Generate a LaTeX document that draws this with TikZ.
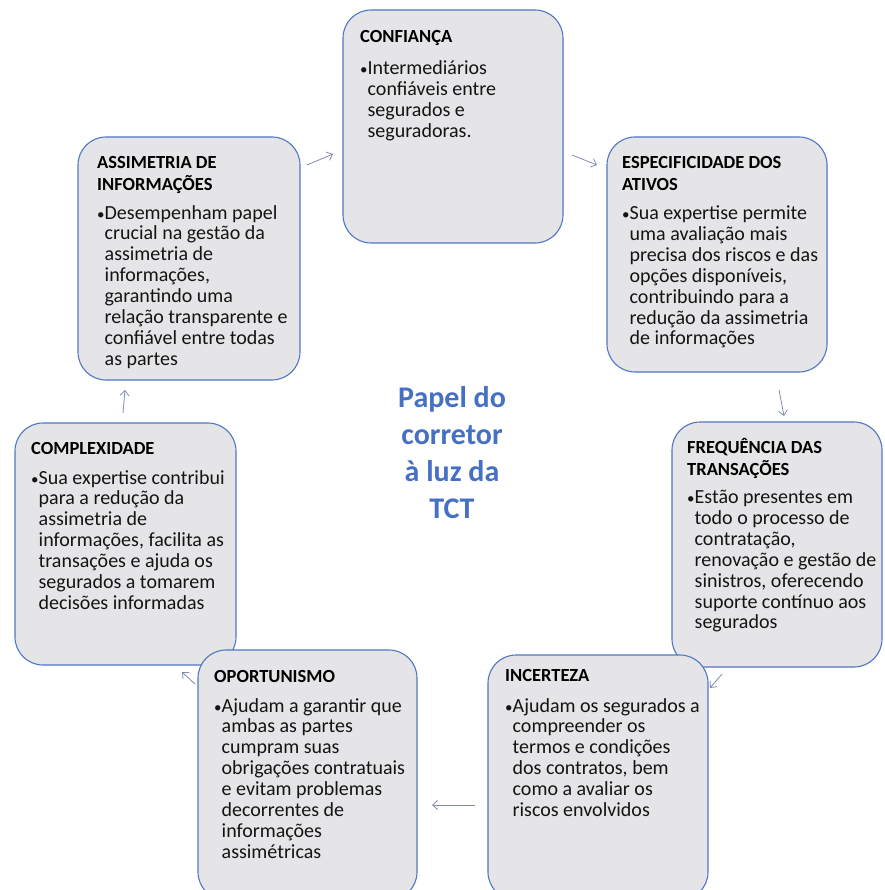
\documentclass[tikz,border=0pt]{standalone}
\usepackage{fontspec}
\usepackage{graphicx}
\setmainfont{Carlito}
\usetikzlibrary{arrows.meta}
\definecolor{boxfill}{RGB}{229,229,231}
\definecolor{boxline}{RGB}{80,118,196}
\definecolor{arrowc}{RGB}{128,140,178}
\definecolor{titleblue}{RGB}{70,112,196}
\newcommand{\bul}{\scalebox{0.75}{\textbullet}}
\newcommand{\ind}{\hphantom{\bul}}
\tikzset{
  card/.style={draw=boxline, fill=boxfill, line width=1.1pt, rounded corners=28pt},
  cardtitle/.style={anchor=north west, inner sep=0pt, align=left, font=\fontsize{18.5}{22}\selectfont\bfseries, text=black},
  cardbody/.style={anchor=north west, inner sep=0pt, align=left, font=\fontsize{20}{20.9}\selectfont, text=black!92},
  flowarrow/.style={draw=arrowc, line width=0.8pt, -{Straight Barb[length=5pt,width=9pt]}},
  centretext/.style={align=center, font=\fontsize{30}{37}\selectfont\bfseries, text=titleblue}
}
\begin{document}
\begin{tikzpicture}[x=1pt,y=-1pt]
\useasboundingbox (0,0) rectangle (884,890);
\clip (0,0) rectangle (884,890);
\fill[white] (0,0) rectangle (884,890);

% boxes (drawing order for overlaps)
\draw[card] (15,423) rectangle (236,665);
\draw[card] (672,422) rectangle (882,667);
\draw[card] (343,10) rectangle (563,243);
\draw[card] (607,137) rectangle (827,372);
\draw[card] (78,137) rectangle (300,380);
\draw[card] (488,655) rectangle (708,900);
\draw[card] (198,650) rectangle (417,900);

% CONFIANÇA
\node[cardtitle] (conft) at (360,30) {CONFIANÇA};
\node[cardbody] (confb) at (360,60.5) {\bul Intermediários\\
\ind confiáveis entre\\
\ind segurados e\\
\ind seguradoras.};

% ESPECIFICIDADE
\node[cardtitle] (espect) at (622,156) {ESPECIFICIDADE DOS\\ATIVOS};
\node[cardbody] (especb) at (622,205.5) {\bul Sua expertise permite\\
\ind uma avaliação mais\\
\ind precisa dos riscos e das\\
\ind opções disponíveis,\\
\ind contribuindo para a\\
\ind redução da assimetria\\
\ind de informações};

% FREQUÊNCIA
\node[cardtitle] (freqt) at (687,438) {FREQUÊNCIA DAS\\TRANSAÇÕES};
\node[cardbody] (freqb) at (687,490) {\bul Estão presentes em\\
\ind todo o processo de\\
\ind contratação,\\
\ind renovação e gestão de\\
\ind sinistros, oferecendo\\
\ind suporte contínuo aos\\
\ind segurados};

% INCERTEZA
\node[cardtitle] (incertt) at (505,669) {INCERTEZA};
\node[cardbody] (incertb) at (505,698) {\bul Ajudam os segurados a\\
\ind compreender os\\
\ind termos e condições\\
\ind dos contratos, bem\\
\ind como a avaliar os\\
\ind riscos envolvidos};

% OPORTUNISMO
\node[cardtitle] (oportt) at (214,670) {OPORTUNISMO};
\node[cardbody] (oportb) at (214,698) {\bul Ajudam a garantir que\\
\ind ambas as partes\\
\ind cumpram suas\\
\ind obrigações contratuais\\
\ind e evitam problemas\\
\ind decorrentes de\\
\ind informações\\
\ind assimétricas};

% COMPLEXIDADE
\node[cardtitle] (complt) at (31,442) {COMPLEXIDADE};
\node[cardbody] (complb) at (31,470) {\bul Sua expertise contribui\\
\ind para a redução da\\
\ind assimetria de\\
\ind informações, facilita as\\
\ind transações e ajuda os\\
\ind segurados a tomarem\\
\ind decisões informadas};

% ASSIMETRIA
\node[cardtitle] (assimt) at (97,156) {ASSIMETRIA DE\\INFORMAÇÕES};
\node[cardbody] (assimb) at (97,205) {\bul Desempenham papel\\
\ind crucial na gestão da\\
\ind assimetria de\\
\ind informações,\\
\ind garantindo uma\\
\ind relação transparente e\\
\ind confiável entre todas\\
\ind as partes};

\node[centretext] (centre) at (452,453) {Papel do\\corretor\\à luz da\\TCT};

% arrows
\coordinate (a1s) at (307,165); \coordinate (a1e) at (333,154);
\coordinate (a2s) at (572,155); \coordinate (a2e) at (597,165);
\coordinate (a3s) at (779,390); \coordinate (a3e) at (784,416);
\coordinate (a4s) at (722,674); \coordinate (a4e) at (710,688);
\coordinate (a5s) at (475,805); \coordinate (a5e) at (432,805);
\coordinate (a6s) at (195,684); \coordinate (a6e) at (182,672);
\coordinate (a7s) at (123,413); \coordinate (a7e) at (125,390);
\draw[flowarrow] (a1s) -- (a1e);
\draw[flowarrow] (a2s) -- (a2e);
\draw[flowarrow] (a3s) -- (a3e);
\draw[flowarrow] (a4s) -- (a4e);
\draw[flowarrow] (a5s) -- (a5e);
\draw[flowarrow] (a6s) -- (a6e);
\draw[flowarrow] (a7s) -- (a7e);
\end{tikzpicture}
\end{document}
